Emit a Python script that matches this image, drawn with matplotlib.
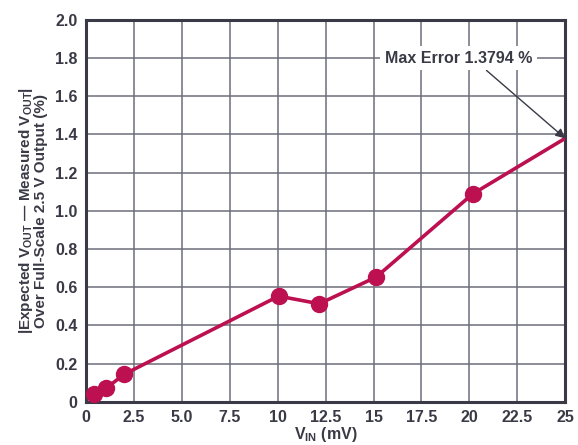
import matplotlib.pyplot as plt

plt.rcParams['font.family'] = ['Liberation Sans', 'DejaVu Sans']
plt.rcParams['font.weight'] = 'bold'
plt.rcParams['axes.labelweight'] = 'bold'
plt.rcParams['mathtext.fontset'] = 'custom'
plt.rcParams['mathtext.rm'] = 'Liberation Sans:bold'
plt.rcParams['mathtext.it'] = 'Liberation Sans:bold'
plt.rcParams['mathtext.bf'] = 'Liberation Sans:bold'

# measured error points
vin_mv = [0.43, 1.04, 2.0, 10.05, 12.17, 15.14, 20.17]
error_pct = [0.04, 0.07, 0.144, 0.553, 0.513, 0.653, 1.088]

# full-scale end of the curve (no marker)
max_vin = 25.0
max_error = 1.3794

xticks = [0, 2.5, 5.0, 7.5, 10, 12.5, 15, 17.5, 20, 22.5, 25]
xtick_labels = ['0', '2.5', '5.0', '7.5', '10', '12.5', '15', '17.5', '20', '22.5', '25']
yticks = [0, 0.2, 0.4, 0.6, 0.8, 1.0, 1.2, 1.4, 1.6, 1.8, 2.0]
ytick_labels = ['0', '0.2', '0.4', '0.6', '0.8', '1.0', '1.2', '1.4', '1.6', '1.8', '2.0']

dark = '#3a3a46'
red = '#bc1050'

fig = plt.figure(figsize=(5.78, 4.45), dpi=100)
ax = fig.add_axes([0.1488, 0.0973, 0.829, 0.858])

ax.plot(vin_mv + [max_vin], error_pct + [max_error], color=red, lw=2.6,
        solid_capstyle='butt', zorder=3)
ax.plot(vin_mv, error_pct, 'o', color=red, ms=11.5, zorder=4)

ax.set_xlim(0, 25)
ax.set_ylim(0, 2.0)
ax.set_xticks(xticks)
ax.set_xticklabels(xtick_labels, fontweight='bold')
ax.set_yticks(yticks)
ax.set_yticklabels(ytick_labels, fontweight='bold')
ax.tick_params(length=0, labelsize=11.5, labelcolor=dark, pad=6)
ax.grid(True, color='#6e6e7a', lw=1.1)
ax.set_axisbelow(True)
for s in ax.spines.values():
    s.set_color(dark)
    s.set_linewidth(2.2)

ax.set_xlabel(r'V$_{\rm IN}$ (mV)', fontsize=11.5, fontweight='bold',
              color=dark, labelpad=0)
ax.set_ylabel('|Expected V$_{\\rm OUT}$ \u2014 Measured V$_{\\rm OUT}$|\n'
              'Over Full-Scale 2.5 V Output (%)',
              fontsize=11, fontweight='bold', color=dark, labelpad=5,
              linespacing=0.95)

ax.annotate('Max Error 1.3794 %', xy=(max_vin, max_error), xytext=(19.45, 1.8),
            ha='center', va='center', fontsize=11.5, fontweight='bold', color=dark,
            bbox=dict(boxstyle='square,pad=0.3', fc='white', ec='none'),
            arrowprops=dict(arrowstyle='-|>', color=dark, lw=1.0,
                            mutation_scale=14, shrinkA=0, shrinkB=0,
                            relpos=(0.65, 0.0)),
            zorder=5)

fig.savefig('out.png', dpi=100)
